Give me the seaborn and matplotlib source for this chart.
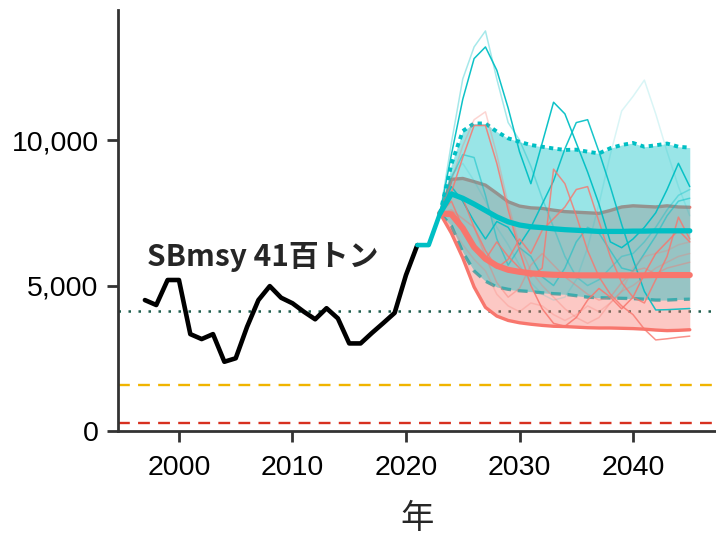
import numpy as np
import pandas as pd
import matplotlib
matplotlib.use("Agg")
import matplotlib.pyplot as plt
import seaborn as sns

# ---------------- data ----------------
hist_years = list(range(1997, 2022))
hist_sb = [4500, 4330, 5190, 5190, 3330, 3160, 3330, 2380, 2500, 3580, 4500, 4980, 4580,
           4390, 4100, 3840, 4220, 3870, 3010, 3010, 3370, 3710, 4060, 5360, 6390]

bridge_years = [2021, 2022, 2023]
bridge_sb = [6390, 6390, 7480]

proj_years = list(range(2023, 2046))

cyan_median = [7480, 8150, 8000, 7800, 7580, 7360, 7190, 7080, 7020, 6990, 6950, 6920,
               6900, 6880, 6860, 6860, 6860, 6870, 6870, 6880, 6880, 6880, 6880]
cyan_upper = [7480, 9170, 10310, 10570, 10570, 10290, 10060, 9940, 9830, 9770, 9710, 9660,
              9670, 9600, 9540, 9720, 9830, 9900, 9770, 9820, 9880, 9770, 9740]
cyan_lower = [7480, 7050, 6150, 5500, 5150, 4950, 4870, 4820, 4790, 4750, 4720, 4700,
              4650, 4600, 4580, 4570, 4560, 4550, 4530, 4500, 4500, 4520, 4530]

red_median = [7480, 7450, 6970, 6320, 5920, 5680, 5540, 5470, 5420, 5390, 5370, 5360,
              5350, 5350, 5350, 5350, 5350, 5350, 5350, 5360, 5360, 5360, 5360]
red_upper = [7480, 8650, 8680, 8570, 8450, 8170, 7880, 7730, 7670, 7650, 7590, 7540,
             7520, 7500, 7480, 7580, 7700, 7740, 7720, 7700, 7740, 7700, 7690]
red_lower = [7480, 6800, 5950, 4950, 4250, 3950, 3800, 3720, 3670, 3630, 3600, 3590,
             3570, 3550, 3540, 3540, 3530, 3520, 3500, 3470, 3450, 3460, 3480]

cyan_runs = {
    "c1": [7480, 9900, 12100, 13200, 13750, 12100, 10600, 10000, 9100, 8000, 7000, 6000,
           5300, 5000, 5200, 5600, 6000, 6100, 6500, 7000, 7600, 8100, 8300],
    "c2": [7480, 9500, 11400, 12800, 13200, 12400, 11100, 9600, 8500, 9900, 11300, 10900,
           9900, 8900, 7800, 6500, 6300, 6600, 7000, 7500, 8300, 9200, 8400],
    "c3": [7480, 8400, 7900, 7200, 6600, 7200, 7000, 6400, 7000, 7800, 8600, 9700,
           10600, 10700, 9600, 8400, 7100, 5900, 4800, 4160, 4170, 4190, 4210],
    "c4": [7480, 8800, 9200, 8600, 7900, 7000, 6400, 5700, 5100, 4700, 4500, 4600,
           5200, 6300, 7800, 9500, 11000, 11500, 12060, 10900, 9600, 8400, 7400],
    "c5": [7480, 8700, 9500, 9400, 8100, 6600, 5700, 6300, 6000, 5300, 5000, 5600,
           6500, 7000, 6800, 6200, 5600, 5500, 6100, 6700, 7400, 7900, 8000],
}
cyan_alpha = {"c1": 0.35, "c2": 0.95, "c3": 0.9, "c4": 0.15, "c5": 0.5}

red_runs = {
    "r1": [7480, 8600, 9800, 10700, 10970, 9500, 7800, 6400, 5500, 5000, 4600, 4200,
           3900, 3700, 3900, 4400, 4800, 5000, 5300, 5600, 5800, 6000, 6100],
    "r2": [7480, 8200, 9400, 10500, 10500, 9200, 7600, 6200, 5000, 4200, 3700, 3600,
           3900, 4500, 4900, 4600, 4200, 4600, 5400, 6100, 6500, 6900, 6500],
    "r3": [7480, 7900, 7000, 6300, 5900, 6500, 6000, 5600, 5300, 5600, 9000, 8500,
           7400, 6200, 5300, 4700, 4300, 4000, 3500, 3130, 3170, 3220, 3260],
    "r4": [7480, 8100, 8000, 7000, 6200, 5600, 5900, 6600, 6100, 6900, 7300, 7700,
           8300, 8400, 7200, 6000, 5100, 4600, 4400, 5200, 6000, 7350, 6600],
    "r5": [7480, 7600, 7300, 7000, 6000, 5100, 4600, 4900, 5700, 6100, 5700, 5300,
           5000, 4700, 4500, 4600, 5100, 5500, 5600, 5400, 5600, 5700, 5800],
    "r6": [7480, 7000, 6400, 5900, 5500, 4700, 4300, 4100, 4400, 4300, 4000, 3800,
           4000, 4300, 4100, 4400, 4800, 5600, 6000, 6100, 6200, 6400, 6500],
}
red_alpha = {"r1": 0.3, "r2": 0.85, "r3": 0.8, "r4": 0.8, "r5": 0.4, "r6": 0.25}

sb_msy = 4130
sb_limit = 1580
sb_ban = 260

x_ticks = [2000, 2010, 2020, 2030, 2040]
y_ticks = [0, 5000, 10000]
y_tick_labels = ["0", "5,000", "10,000"]

# ---------------- style ----------------
sns.set_theme(style="ticks")
plt.rcParams["font.family"] = ["Liberation Sans", "Noto Sans CJK JP", "DejaVu Sans"]

CYAN = "#00BFC4"
RED = "#F8766D"

fig = plt.figure(figsize=(7.16, 5.39), dpi=100)
ax = fig.add_axes([118 / 716, 1 - 431 / 539, 598 / 716, 421 / 539])

py = np.array(proj_years)

# reference lines
ax.axhline(sb_msy, color="#1F5F4F", lw=1.8, ls=(0, (1, 3.0)), zorder=1.5)
ax.axhline(sb_limit, color="#F0B400", lw=1.7, ls=(0, (5, 3.5)), zorder=1.5)
ax.axhline(sb_ban, color="#D7301F", lw=1.7, ls=(0, (5, 3.5)), zorder=1.5)

# red ribbon
ax.fill_between(py, red_lower, red_upper, color=RED, alpha=0.4, lw=0, zorder=2)
sns.lineplot(x=proj_years, y=red_upper, ax=ax, color=RED, lw=2.4, estimator=None, zorder=2.1)
sns.lineplot(x=proj_years, y=red_lower, ax=ax, color=RED, lw=2.4, estimator=None, zorder=2.1)
# cyan lower edge (lies under the red fill)
sns.lineplot(x=proj_years, y=cyan_lower, ax=ax, color=CYAN, lw=2.4, estimator=None,
             ls=(0, (3, 2)), zorder=1.9)
# cyan ribbon
ax.fill_between(py, cyan_lower, cyan_upper, color=CYAN, alpha=0.4, lw=0, zorder=3)
sns.lineplot(x=proj_years, y=cyan_upper, ax=ax, color=CYAN, lw=2.8, estimator=None,
             ls=(0, (1.1, 1.1)), zorder=3.1)

# individual runs
for k, v in cyan_runs.items():
    sns.lineplot(x=proj_years, y=v, ax=ax, color=CYAN, lw=1.1, alpha=cyan_alpha[k],
                 estimator=None, zorder=4)
for k, v in red_runs.items():
    sns.lineplot(x=proj_years, y=v, ax=ax, color=RED, lw=1.1, alpha=red_alpha[k],
                 estimator=None, zorder=4)

# medians
sns.lineplot(x=proj_years, y=red_median, ax=ax, color=RED, lw=4.4, estimator=None, zorder=5)
sns.lineplot(x=proj_years, y=cyan_median, ax=ax, color=CYAN, lw=3.8, estimator=None, zorder=5)

# history
sns.lineplot(x=hist_years, y=hist_sb, ax=ax, color="black", lw=3.3, estimator=None, zorder=6)
sns.lineplot(x=bridge_years, y=bridge_sb, ax=ax, color=CYAN, lw=3.3, estimator=None, zorder=6)

ax.text(1997.2, 5980, "SBmsy 41百トン", fontsize=21.5, fontweight="bold",
        family=["Noto Sans CJK JP", "DejaVu Sans"], ha="left", va="center", zorder=7)

ax.set_xlim(1994.63, 2047.31)
ax.set_ylim(0, 14470)
ax.set_xticks(x_ticks)
ax.set_xticklabels([str(t) for t in x_ticks])
ax.set_yticks(y_ticks)
ax.set_yticklabels(y_tick_labels)
ax.set_xlabel("年", fontsize=24, family=["Noto Sans CJK JP", "DejaVu Sans"], labelpad=15)
ax.set_ylabel("")

for s in ["top", "right"]:
    ax.spines[s].set_visible(False)
for s in ["left", "bottom"]:
    ax.spines[s].set_color("#333333")
    ax.spines[s].set_linewidth(2.0)
ax.tick_params(axis="both", length=8, width=2.0, color="#333333", labelsize=20.5,
               labelcolor="black")
ax.tick_params(axis="x", pad=9)
ax.tick_params(axis="y", pad=6)
ax.grid(False)
if ax.get_legend():
    ax.get_legend().remove()

fig.savefig("out.png", dpi=100)
